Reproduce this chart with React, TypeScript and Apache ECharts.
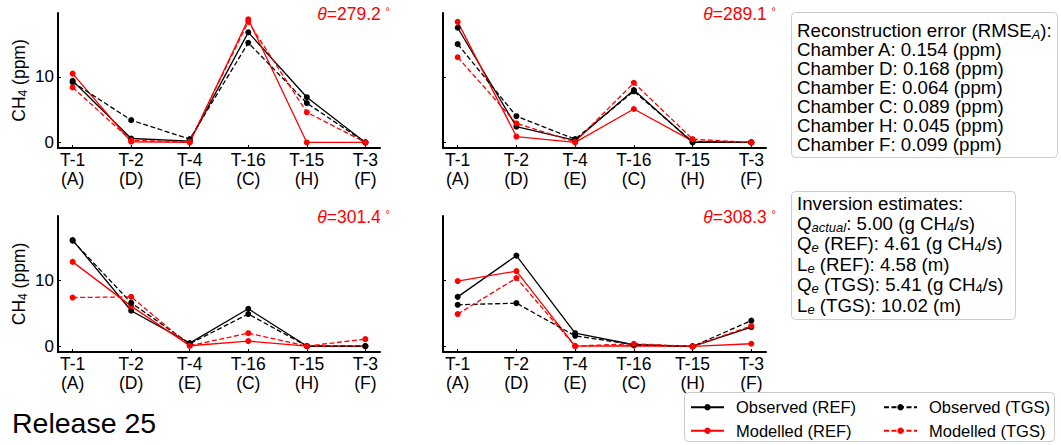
import React, { useEffect, useRef } from "react";
import * as echarts from "echarts";

const categories = ["T-1", "T-2", "T-4", "T-16", "T-15", "T-3"];
const chambers = ["A", "D", "E", "C", "H", "F"];
const angles = ["279.2", "289.1", "301.4", "308.3"];

// panel 1 (θ=279.2°)
const obsREF1 = [9.4, 0.6, 0.2, 16.8, 6.9, 0.0];
const modREF1 = [10.5, 0.1, 0.0, 18.8, 0.0, 0.0];
const obsTGS1 = [9.2, 3.4, 0.5, 15.2, 6.0, 0.0];
const modTGS1 = [8.4, 0.3, 0.1, 18.4, 4.6, 0.0];
// panel 2 (θ=289.1°)
const obsREF2 = [17.5, 2.4, 0.3, 8.0, 0.0, 0.0];
const modREF2 = [18.4, 0.9, 0.0, 5.1, 0.2, 0.0];
const obsTGS2 = [15.0, 4.0, 0.5, 7.8, 0.1, 0.0];
const modTGS2 = [13.0, 2.9, 0.1, 9.1, 0.5, 0.0];
// panel 3 (θ=301.4°)
const obsREF3 = [16.1, 5.4, 0.5, 5.7, 0.05, 0.05];
const modREF3 = [12.8, 6.1, 0.1, 0.8, 0.05, 0.0];
const obsTGS3 = [16.0, 6.6, 0.4, 4.9, 0.05, 0.05];
const modTGS3 = [7.4, 7.5, 0.1, 2.0, 0.05, 1.1];
// panel 4 (θ=308.3°)
const obsREF4 = [7.5, 13.75, 2.0, 0.25, 0.0, 2.9];
const modREF4 = [9.9, 11.4, 0.05, 0.1, 0.0, 0.4];
const obsTGS4 = [6.3, 6.55, 1.6, 0.25, 0.0, 3.9];
const modTGS4 = [4.9, 10.35, 0.05, 0.4, 0.0, 3.1];

const yTicks = [0, 10];
const seriesNames = ["Observed (REF)", "Modelled (REF)", "Observed (TGS)", "Modelled (TGS)"];

const rmseTitle = "Reconstruction error (RMSE{sub|A}):";
const rmseChambers = ["A", "D", "E", "C", "H", "F"];
const rmseValues = ["0.154", "0.168", "0.064", "0.089", "0.045", "0.099"];

const inversionLines = [
  "Inversion estimates:",
  "Q{sub|actual}: 5.00 (g CH{sub2|4}/s)",
  "Q{sub|e} (REF): 4.61 (g CH{sub2|4}/s)",
  "L{sub|e} (REF): 4.58 (m)",
  "Q{sub|e} (TGS): 5.41 (g CH{sub2|4}/s)",
  "L{sub|e} (TGS): 10.02 (m)",
];

const FONT = "'Liberation Sans', Arial, Helvetica, sans-serif";

export default function App() {
  const ref = useRef<HTMLDivElement>(null);

  useEffect(() => {
    if (!ref.current) return;
    const chart = echarts.init(ref.current, null, { renderer: "svg" });

    const panels = [
      [obsREF1, modREF1, obsTGS1, modTGS1],
      [obsREF2, modREF2, obsTGS2, modTGS2],
      [obsREF3, modREF3, obsTGS3, modTGS3],
      [obsREF4, modREF4, obsTGS4, modTGS4],
    ];
    const grids = [
      { left: 58, top: 13, width: 322, height: 135 },
      { left: 443, top: 13, width: 323, height: 135 },
      { left: 58, top: 216, width: 322, height: 136 },
      { left: 443, top: 216, width: 323, height: 136 },
    ];
    const colors = ["#000000", "#ff0000", "#000000", "#ff0000"];
    const dashed = [false, false, true, true];
    const xIdx = categories.map((_, i) => i);

    const xAxes = grids.map((_, g) => ({
      type: "value",
      gridIndex: g,
      min: -0.25,
      max: 5.25,
      axisLine: { show: true, onZero: false, lineStyle: { color: "#000", width: 2 } },
      axisTick: { show: true, inside: true, length: 3, customValues: xIdx, lineStyle: { color: "#000", width: 1 } },
      axisLabel: {
        customValues: xIdx,
        formatter: (v: number) => {
          const i = Math.round(v);
          return `${categories[i]}\n(${chambers[i]})`;
        },
        fontSize: 17.5,
        lineHeight: 19.5,
        color: "#000",
        fontFamily: FONT,
        margin: 2,
      },
      splitLine: { show: false },
    }));

    const yAxes = grids.map((_, g) => ({
      type: "value",
      gridIndex: g,
      min: -0.85,
      max: 19.75,
      axisLine: { show: true, onZero: false, lineStyle: { color: "#000", width: 2 } },
      axisTick: { show: true, inside: true, length: 3, customValues: yTicks, lineStyle: { color: "#000", width: 1 } },
      axisLabel: {
        show: g % 2 === 0,
        customValues: yTicks,
        fontSize: 17,
        color: "#000",
        fontFamily: FONT,
        margin: 4,
      },
      splitLine: { show: false },
      name: g % 2 === 0 ? "CH{sub|4} (ppm)" : "",
      nameLocation: "middle",
      nameGap: 29,
      nameTextStyle: {
        fontSize: 17.5,
        color: "#000",
        fontFamily: FONT,
        rich: { sub: { fontSize: 12, fontFamily: FONT, color: "#000", padding: [8, 0, 0, 0] } },
      },
    }));

    const series: any[] = [];
    panels.forEach((vals, g) => {
      vals.forEach((arr, s) => {
        series.push({
          type: "line",
          name: seriesNames[s],
          xAxisIndex: g,
          yAxisIndex: g,
          data: arr.map((v, i) => [i, v]),
          symbol: "circle",
          symbolSize: 6,
          showSymbol: true,
          itemStyle: { color: colors[s] },
          lineStyle: { color: colors[s], width: 1.3, type: dashed[s] ? [5, 2.5] : "solid" },
          emphasis: { disabled: true },
        });
      });
    });

    const titlePos = [
      [390, 14],
      [776, 14],
      [390, 217],
      [776, 217],
    ];
    const graphics: any[] = [];
    angles.forEach((a, g) => {
      graphics.push({
        type: "text",
        x: titlePos[g][0],
        y: titlePos[g][1],
        style: {
          text: `{it|θ}=${a} {deg|°}`,
          fill: "#ff0000",
          fontSize: 17.5,
          fontFamily: FONT,
          align: "right",
          verticalAlign: "middle",
          rich: {
            it: { fontStyle: "italic", fontSize: 17.5, fontFamily: FONT, fill: "#ff0000" },
            deg: { fontSize: 11, fontFamily: FONT, fill: "#ff0000", padding: [0, 0, 7, 0] },
          },
        },
      });
    });

    // RMSE box
    graphics.push({
      type: "rect",
      shape: { x: 791.5, y: 12.5, width: 266, height: 145, r: 4 },
      style: { fill: "#fff", stroke: "#cccccc", lineWidth: 1 },
      z: 10,
    });
    const rmseLines = [rmseTitle, ...rmseChambers.map((c, i) => `Chamber ${c}: ${rmseValues[i]} (ppm)`)];
    rmseLines.forEach((t, k) => {
      graphics.push({
        type: "text",
        x: 797,
        y: 30 + 19 * k,
        z: 11,
        style: {
          text: t,
          fill: "#000",
          fontSize: 18.7,
          fontFamily: FONT,
          align: "left",
          verticalAlign: "middle",
          rich: { sub: { fontSize: 13, fontStyle: "italic", fontFamily: FONT, fill: "#000", padding: [8, 0, 0, 0] } },
        },
      });
    });

    // Inversion box
    graphics.push({
      type: "rect",
      shape: { x: 791.5, y: 191.5, width: 224, height: 128, r: 4 },
      style: { fill: "#fff", stroke: "#cccccc", lineWidth: 1 },
      z: 10,
    });
    inversionLines.forEach((t, k) => {
      graphics.push({
        type: "text",
        x: 797,
        y: 203 + 20.4 * k,
        z: 11,
        style: {
          text: t,
          fill: "#000",
          fontSize: 18.7,
          fontFamily: FONT,
          align: "left",
          verticalAlign: "middle",
          rich: {
            sub: { fontSize: 13, fontStyle: "italic", fontFamily: FONT, fill: "#000", padding: [8, 0, 0, 0] },
            sub2: { fontSize: 13, fontFamily: FONT, fill: "#000", padding: [8, 0, 0, 0] },
          },
        },
      });
    });

    // legend box
    graphics.push({
      type: "rect",
      shape: { x: 684.5, y: 392.5, width: 370, height: 49, r: 4 },
      style: { fill: "#fff", stroke: "#cccccc", lineWidth: 1 },
      z: 1,
    });

    graphics.push({
      type: "text",
      x: 12,
      y: 423,
      style: {
        text: "Release 25",
        fill: "#000",
        fontSize: 28.5,
        fontFamily: FONT,
        align: "left",
        verticalAlign: "middle",
      },
    });

    const legendCommon = {
      orient: "vertical",
      padding: 0,
      itemWidth: 33,
      itemHeight: 8,
      itemGap: 6.6,
      selectedMode: false,
      textStyle: { fontSize: 16.5, fontFamily: FONT, color: "#000", lineHeight: 16, padding: [0, 0, 0, 7] },
      z: 20,
    };

    chart.setOption({
      animation: false,
      backgroundColor: "#fff",
      grid: grids.map((g) => ({ ...g, containLabel: false })),
      xAxis: xAxes,
      yAxis: yAxes,
      series,
      legend: [
        { ...legendCommon, data: [seriesNames[0], seriesNames[1]], left: 690, top: 398.7 },
        { ...legendCommon, data: [seriesNames[2], seriesNames[3]], left: 883, top: 398.7 },
      ],
      graphic: { elements: graphics },
    });

    return () => chart.dispose();
  }, []);

  return (
    <div
      ref={ref}
      style={{ position: "fixed", left: 0, top: 0, width: 1061, height: 445 }}
    />
  );
}
